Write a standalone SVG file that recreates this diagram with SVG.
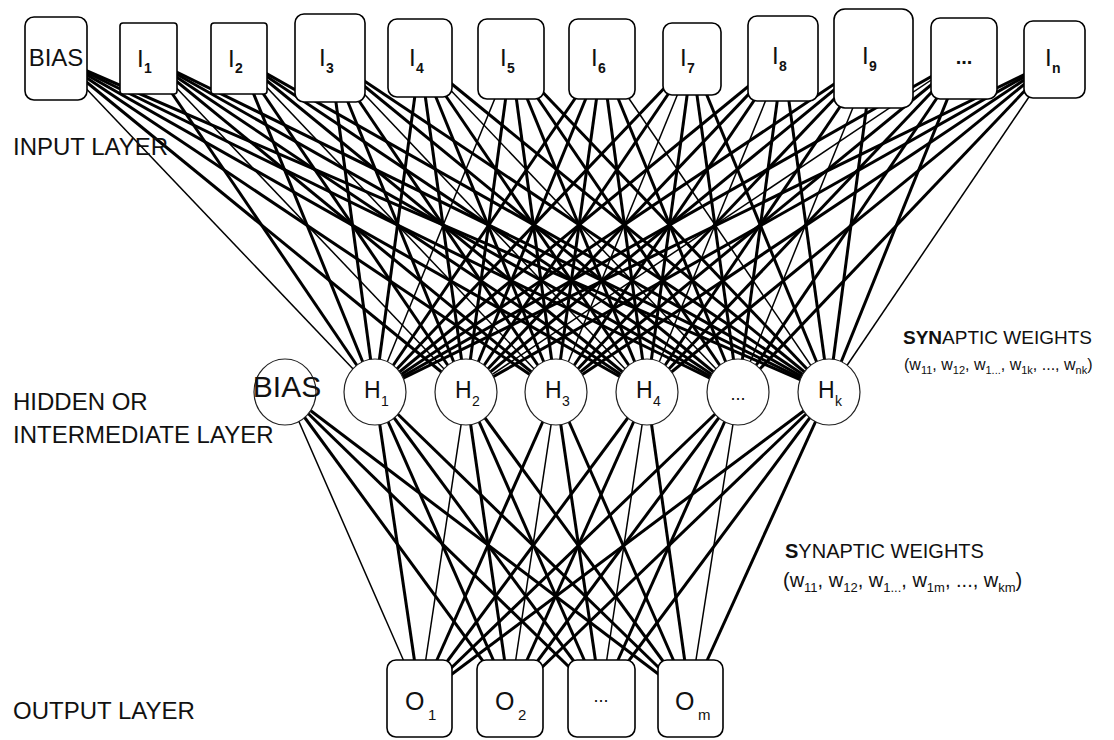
<svg xmlns="http://www.w3.org/2000/svg" width="1114" height="740" viewBox="0 0 1114 740">
<style>
.box{fill:#fff;stroke:#000;stroke-width:1.6}
.ell{fill:#fff;stroke:#222;stroke-width:1.2}
text{font-family:"Liberation Sans",Arial,sans-serif;fill:#111}
.big{font-size:24px}
.il{font-size:24px}
.is{font-size:14px;font-weight:bold}
.hl{font-size:23px}
.hs{font-size:14px}
.ol{font-size:25px}
.os{font-size:15px}
.sw{font-size:20px}
.ws{font-size:13px}
.sw2{font-size:19px}
.wt2{font-size:16px}
.ws2{font-size:11px}
.n{stroke-width:1.5}
</style>
<rect width="1114" height="740" fill="#fff"/>
<g id="connectors" stroke="#000" stroke-width="3" fill="none">
<line class="n" x1="57" y1="58" x2="375" y2="392"/><line x1="57" y1="58" x2="466" y2="392"/><line x1="57" y1="58" x2="556" y2="392"/><line x1="57" y1="58" x2="647" y2="392"/><line x1="57" y1="58" x2="738" y2="392"/><line x1="57" y1="58" x2="829" y2="392"/>
<line x1="148" y1="58" x2="375" y2="392"/><line class="n" x1="148" y1="58" x2="466" y2="392"/><line x1="148" y1="58" x2="556" y2="392"/><line x1="148" y1="58" x2="647" y2="392"/><line x1="148" y1="58" x2="738" y2="392"/><line x1="148" y1="58" x2="829" y2="392"/>
<line x1="239" y1="58" x2="375" y2="392"/><line x1="239" y1="58" x2="466" y2="392"/><line class="n" x1="239" y1="58" x2="556" y2="392"/><line x1="239" y1="58" x2="647" y2="392"/><line x1="239" y1="58" x2="738" y2="392"/><line x1="239" y1="58" x2="829" y2="392"/>
<line x1="330" y1="58" x2="375" y2="392"/><line x1="330" y1="58" x2="466" y2="392"/><line x1="330" y1="58" x2="556" y2="392"/><line class="n" x1="330" y1="58" x2="647" y2="392"/><line x1="330" y1="58" x2="738" y2="392"/><line x1="330" y1="58" x2="829" y2="392"/>
<line x1="420" y1="58" x2="375" y2="392"/><line x1="420" y1="58" x2="466" y2="392"/><line x1="420" y1="58" x2="556" y2="392"/><line x1="420" y1="58" x2="647" y2="392"/><line class="n" x1="420" y1="58" x2="738" y2="392"/><line x1="420" y1="58" x2="829" y2="392"/>
<line class="n" x1="511" y1="59" x2="375" y2="392"/><line x1="511" y1="59" x2="466" y2="392"/><line x1="511" y1="59" x2="556" y2="392"/><line x1="511" y1="59" x2="647" y2="392"/><line x1="511" y1="59" x2="738" y2="392"/><line x1="511" y1="59" x2="829" y2="392"/>
<line x1="602" y1="59" x2="375" y2="392"/><line x1="602" y1="59" x2="466" y2="392"/><line x1="602" y1="59" x2="556" y2="392"/><line x1="602" y1="59" x2="647" y2="392"/><line x1="602" y1="59" x2="738" y2="392"/><line class="n" x1="602" y1="59" x2="829" y2="392"/>
<line x1="692" y1="59" x2="375" y2="392"/><line x1="692" y1="59" x2="466" y2="392"/><line class="n" x1="692" y1="59" x2="556" y2="392"/><line x1="692" y1="59" x2="647" y2="392"/><line x1="692" y1="59" x2="738" y2="392"/><line x1="692" y1="59" x2="829" y2="392"/>
<line x1="783" y1="58" x2="375" y2="392"/><line x1="783" y1="58" x2="466" y2="392"/><line x1="783" y1="58" x2="556" y2="392"/><line class="n" x1="783" y1="58" x2="647" y2="392"/><line x1="783" y1="58" x2="738" y2="392"/><line x1="783" y1="58" x2="829" y2="392"/>
<line x1="873" y1="58" x2="375" y2="392"/><line x1="873" y1="58" x2="466" y2="392"/><line x1="873" y1="58" x2="556" y2="392"/><line x1="873" y1="58" x2="647" y2="392"/><line class="n" x1="873" y1="58" x2="738" y2="392"/><line x1="873" y1="58" x2="829" y2="392"/>
<line x1="964" y1="58" x2="375" y2="392"/><line class="n" x1="964" y1="58" x2="466" y2="392"/><line x1="964" y1="58" x2="556" y2="392"/><line x1="964" y1="58" x2="647" y2="392"/><line x1="964" y1="58" x2="738" y2="392"/><line x1="964" y1="58" x2="829" y2="392"/>
<line x1="1054" y1="60" x2="375" y2="392"/><line x1="1054" y1="60" x2="466" y2="392"/><line x1="1054" y1="60" x2="556" y2="392"/><line x1="1054" y1="60" x2="647" y2="392"/><line x1="1054" y1="60" x2="738" y2="392"/><line class="n" x1="1054" y1="60" x2="829" y2="392"/>
<line class="n" x1="286" y1="392" x2="420" y2="698"/><line x1="286" y1="392" x2="510" y2="698"/><line x1="286" y1="392" x2="601" y2="698"/><line x1="286" y1="392" x2="690" y2="698"/>
<line x1="375" y1="392" x2="420" y2="698"/><line x1="375" y1="392" x2="510" y2="698"/><line x1="375" y1="392" x2="601" y2="698"/><line x1="375" y1="392" x2="690" y2="698"/>
<line class="n" x1="466" y1="392" x2="420" y2="698"/><line x1="466" y1="392" x2="510" y2="698"/><line x1="466" y1="392" x2="601" y2="698"/><line x1="466" y1="392" x2="690" y2="698"/>
<line x1="556" y1="392" x2="420" y2="698"/><line class="n" x1="556" y1="392" x2="510" y2="698"/><line x1="556" y1="392" x2="601" y2="698"/><line x1="556" y1="392" x2="690" y2="698"/>
<line x1="647" y1="392" x2="420" y2="698"/><line x1="647" y1="392" x2="510" y2="698"/><line class="n" x1="647" y1="392" x2="601" y2="698"/><line x1="647" y1="392" x2="690" y2="698"/>
<line x1="738" y1="392" x2="420" y2="698"/><line x1="738" y1="392" x2="510" y2="698"/><line x1="738" y1="392" x2="601" y2="698"/><line class="n" x1="738" y1="392" x2="690" y2="698"/>
<line x1="829" y1="392" x2="420" y2="698"/><line x1="829" y1="392" x2="510" y2="698"/><line x1="829" y1="392" x2="601" y2="698"/><line x1="829" y1="392" x2="690" y2="698"/>
</g>
<g id="in-bias"><rect class="box" x="25" y="17" width="62" height="83" rx="9"/><text class="big" x="56" y="66" text-anchor="middle">BIAS</text></g>
<g id="in-1"><rect class="box" x="120" y="23" width="57" height="71" rx="3"/><text class="il" x="137" y="67">I</text><text class="is" x="144" y="73" font-weight="normal">1</text></g>
<g id="in-2"><rect class="box" x="211" y="23" width="56" height="71" rx="3"/><text class="il" x="228" y="67">I</text><text class="is" x="235" y="73" font-weight="normal">2</text></g>
<g id="in-3"><rect class="box" x="295" y="14" width="70" height="88" rx="9"/><text class="il" x="319" y="66">I</text><text class="is" x="326" y="73">3</text></g>
<g id="in-4"><rect class="box" x="388" y="19" width="64" height="78" rx="9"/><text class="il" x="409" y="66">I</text><text class="is" x="416" y="73">4</text></g>
<g id="in-5"><rect class="box" x="478" y="19" width="66" height="80" rx="9"/><text class="il" x="500" y="66">I</text><text class="is" x="507" y="73">5</text></g>
<g id="in-6"><rect class="box" x="569" y="19" width="66" height="80" rx="9"/><text class="il" x="591" y="66">I</text><text class="is" x="598" y="73">6</text></g>
<g id="in-7"><rect class="box" x="663" y="23" width="58" height="72" rx="9"/><text class="il" x="680" y="66">I</text><text class="is" x="687" y="73">7</text></g>
<g id="in-8"><rect class="box" x="748" y="16" width="70" height="85" rx="9"/><text class="il" x="772" y="64">I</text><text class="is" x="779" y="71">8</text></g>
<g id="in-9"><rect class="box" x="834" y="9" width="79" height="99" rx="11"/><text class="il" x="862" y="64">I</text><text class="is" x="869" y="71">9</text></g>
<g id="in-dots"><rect class="box" x="931" y="18" width="66" height="81" rx="9"/><text x="964" y="64" font-size="20" font-weight="bold" text-anchor="middle">...</text></g>
<g id="in-n"><rect class="box" x="1024" y="21" width="61" height="77" rx="9"/><text class="il" x="1045" y="66">I</text><text class="is" x="1052" y="73" font-weight="normal">n</text></g>
<g id="h-bias"><ellipse class="ell" cx="285" cy="392" rx="31" ry="33"/><text x="287" y="397" font-size="30" text-anchor="middle">BIAS</text></g>
<g id="h-1"><ellipse class="ell" cx="375" cy="392" rx="31" ry="33"/><text class="hl" x="364" y="398">H</text><text class="hs" x="381" y="406">1</text></g>
<g id="h-2"><ellipse class="ell" cx="466" cy="392" rx="31" ry="33"/><text class="hl" x="455" y="398">H</text><text class="hs" x="472" y="406">2</text></g>
<g id="h-3"><ellipse class="ell" cx="556" cy="392" rx="31" ry="33"/><text class="hl" x="545" y="398">H</text><text class="hs" x="562" y="406">3</text></g>
<g id="h-4"><ellipse class="ell" cx="647" cy="392" rx="31" ry="33"/><text class="hl" x="636" y="398">H</text><text class="hs" x="653" y="406">4</text></g>
<g id="h-dots"><ellipse class="ell" cx="738" cy="392" rx="31" ry="33"/><text x="738" y="400" font-size="18" text-anchor="middle">...</text></g>
<g id="h-k"><ellipse class="ell" cx="829" cy="392" rx="31" ry="33"/><text class="hl" x="818" y="398">H</text><text class="hs" x="835" y="406">k</text></g>
<g id="o-1"><rect class="box" x="387" y="660" width="65" height="77" rx="9"/><text class="ol" x="405" y="710">O</text><text class="os" x="428" y="720">1</text></g>
<g id="o-2"><rect class="box" x="477" y="660" width="66" height="77" rx="9"/><text class="ol" x="495" y="710">O</text><text class="os" x="518" y="720">2</text></g>
<g id="o-dots"><rect class="box" x="568" y="660" width="67" height="77" rx="9"/><text x="601" y="702" font-size="18" text-anchor="middle">...</text></g>
<g id="o-m"><rect class="box" x="658" y="660" width="65" height="77" rx="9"/><text class="ol" x="675" y="710">O</text><text class="os" x="698" y="720">m</text></g>
<g id="labels">
<text class="big" x="13" y="155" font-size="23">INPUT LAYER</text>
<text class="big" x="13" y="410">HIDDEN OR</text>
<text class="big" x="13" y="443">INTERMEDIATE LAYER</text>
<text class="big" x="13" y="719">OUTPUT LAYER</text>
<text class="sw2" x="903" y="344"><tspan font-weight="bold">SYN</tspan>APTIC WEIGHTS</text>
<text class="wt2" x="904" y="370">(w<tspan class="ws2" dy="4">11</tspan><tspan dy="-4">, w</tspan><tspan class="ws2" dy="4">12</tspan><tspan dy="-4">, w</tspan><tspan class="ws2" dy="4">1...</tspan><tspan dy="-4">, w</tspan><tspan class="ws2" dy="4">1k</tspan><tspan dy="-4">, ..., w</tspan><tspan class="ws2" dy="4">nk</tspan><tspan dy="-4">)</tspan></text>
<text class="sw" x="785" y="558"><tspan font-weight="bold">S</tspan>YNAPTIC WEIGHTS</text>
<text class="sw" x="783" y="587">(w<tspan class="ws" dy="5">11</tspan><tspan dy="-5">, w</tspan><tspan class="ws" dy="5">12</tspan><tspan dy="-5">, w</tspan><tspan class="ws" dy="5">1...</tspan><tspan dy="-5">, w</tspan><tspan class="ws" dy="5">1m</tspan><tspan dy="-5">, ..., w</tspan><tspan class="ws" dy="5">km</tspan><tspan dy="-5">)</tspan></text>
</g>
</svg>
